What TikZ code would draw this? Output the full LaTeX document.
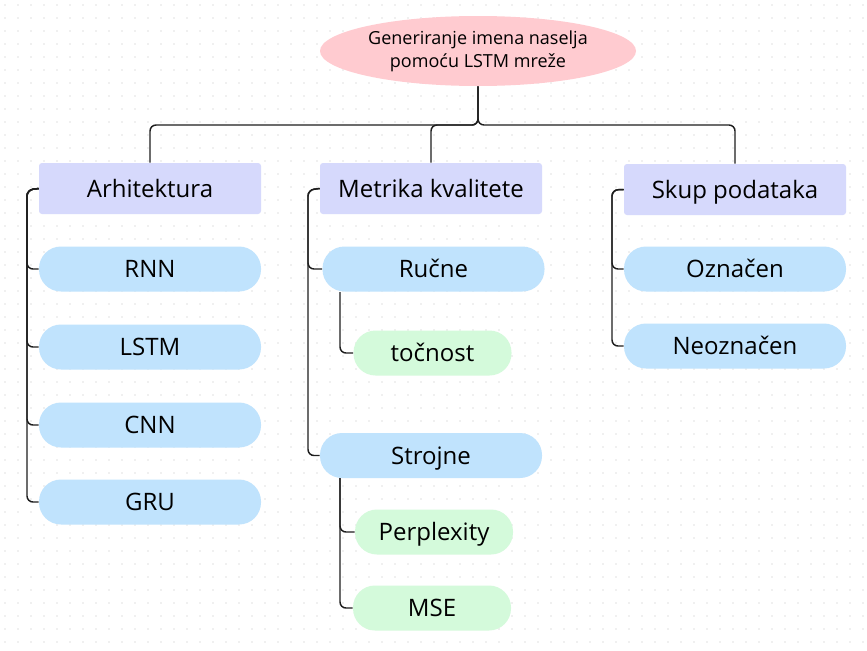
\documentclass[tikz,border=0pt]{standalone}
\usepackage{fontspec}
\setmainfont{Open Sans}
\usetikzlibrary{shapes.geometric}

\begin{document}
\begin{tikzpicture}[x=0.75pt,y=-0.75pt,
  headbox/.style={rectangle, rounded corners=2.25pt, fill=headfill, minimum width=166.5pt, minimum height=38.25pt, inner sep=0pt, text height=13pt, text depth=0pt, font=\fontsize{18}{21}\selectfont},
  bluepill/.style={rectangle, rounded corners=16.5pt, fill=bluefill, minimum width=166.5pt, minimum height=33.75pt, inner sep=0pt, text height=13pt, text depth=0pt, font=\fontsize{18}{21}\selectfont},
  greenpill/.style={rectangle, rounded corners=16.5pt, fill=greenfill, minimum width=118.5pt, minimum height=33.75pt, inner sep=0pt, text height=13pt, text depth=0pt, font=\fontsize{18}{21}\selectfont},
  link/.style={line width=1.1pt, draw=linecol, rounded corners=4.5pt}]

\definecolor{headfill}{HTML}{D6D9FC}
\definecolor{bluefill}{HTML}{C0E3FD}
\definecolor{greenfill}{HTML}{D4FADB}
\definecolor{rootfill}{HTML}{FFCBD0}
\definecolor{linecol}{HTML}{1E1E1E}
\definecolor{dotcol}{HTML}{E2E2E2}

% Background with dots
\useasboundingbox (0,0) rectangle (867,650);
\fill[white] (0,0) rectangle (867,650);
\foreach \i in {0,...,66} {
  \foreach \j in {0,...,49} {
    \fill[dotcol] (5+13*\i,5+13*\j) circle (0.9);
  }
}

% Root
\node[ellipse, fill=rootfill, minimum width=237pt, minimum height=52.5pt, inner sep=0pt, align=center,
  font=\fontsize{13.5}{17.5}\selectfont] (root) at (478,51) {Generiranje imena naselja\\pomoću LSTM mreže};

% Main branches
\node[headbox] (arh) at (150,188.5) {Arhitektura};
\node[headbox] (met) at (431,188.5) {Metrika kvalitete};
\node[headbox] (skup) at (735,189.5) {Skup podataka};

% Arhitektura items
\node[bluepill] (rnn) at (150,269) {RNN};
\node[bluepill] (lstm) at (150,347) {LSTM};
\node[bluepill] (cnn) at (150,425) {CNN};
\node[bluepill] (gru) at (150,502) {GRU};

% Metrika items
\node[bluepill] (rucne) at (433.5,269) {Ručne};
\node[greenpill] (toc) at (432.5,353) {točnost};
\node[bluepill] (strojne) at (431,455.5) {Strojne};
\node[greenpill] (perp) at (434,532) {Perplexity};
\node[greenpill] (mse) at (432,608) {MSE};

% Skup items
\node[bluepill] (ozn) at (735,269) {Označen};
\node[bluepill] (neoz) at (735,346) {Neoznačen};

% Bus points
\coordinate (hub) at (478,125);
\coordinate (arhbus) at (27,190);
\coordinate (metbus) at (308,190);
\coordinate (skupbus) at (612,190);
\coordinate (rucbus) at (340,292);
\coordinate (strbus) at (340,478);

% Connectors
\foreach \n in {arh,met,skup}
  \draw[link] (root.south) -- (hub) -| (\n.north);
\foreach \n in {rnn,lstm,cnn,gru}
  \draw[link] (arh.west) -- (arhbus) |- (\n.west);
\foreach \n in {rucne,strojne}
  \draw[link] (met.west) -- (metbus) |- (\n.west);
\foreach \n in {ozn,neoz}
  \draw[link] (skup.west) -- (skupbus) |- (\n.west);
\draw[link] (rucbus) |- (toc.west);
\foreach \n in {perp,mse}
  \draw[link] (strbus) |- (\n.west);

\end{tikzpicture}
\end{document}
